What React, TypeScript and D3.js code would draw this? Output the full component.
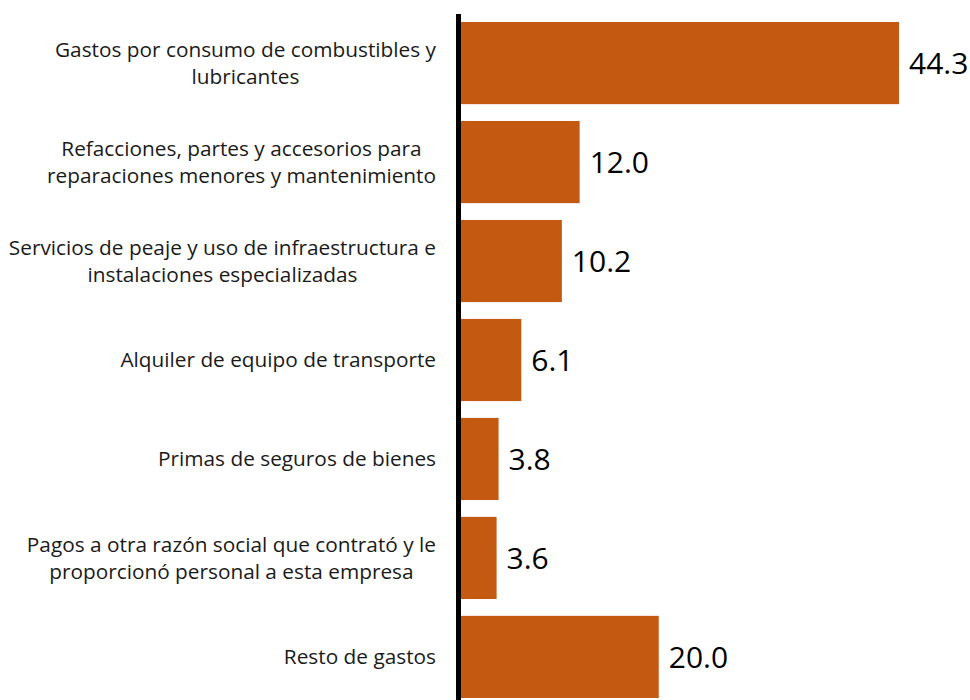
import { useEffect, useRef } from 'react';
import * as d3 from 'd3';

const categories = [
  'Gastos por consumo de combustibles y|lubricantes',
  'Refacciones, partes y accesorios para|reparaciones menores y mantenimiento',
  'Servicios de peaje y uso de infraestructura e|instalaciones especializadas',
  'Alquiler de equipo de transporte',
  'Primas de seguros de bienes',
  'Pagos a otra razón social que contrató y le|proporcionó personal a esta empresa',
  'Resto de gastos',
];
const values = [44.3, 12.0, 10.2, 6.1, 3.8, 3.6, 20.0];

const WIDTH = 970;
const HEIGHT = 700;
const BAR_COLOR = '#C45911';
const FONT = '"Open Sans", "DejaVu Sans", sans-serif';

export default function App() {
  const svgRef = useRef<SVGSVGElement>(null);

  useEffect(() => {
    const root = d3.select(svgRef.current);
    root.selectAll('*').remove();

    const y = d3.scaleBand<string>().domain(categories).range([22, 698]).paddingInner(0.17).paddingOuter(0);
    const x = d3.scaleLinear().domain([0, 44.3]).range([461, 899]);

    root
      .selectAll('rect.bar')
      .data(categories)
      .enter()
      .append('rect')
      .attr('class', 'bar')
      .attr('x', x(0))
      .attr('y', d => y(d) as number)
      .attr('width', (_, i) => x(values[i]) - x(0))
      .attr('height', y.bandwidth())
      .attr('fill', BAR_COLOR);

    // axis line
    root
      .append('line')
      .attr('x1', 458.5)
      .attr('x2', 458.5)
      .attr('y1', 14)
      .attr('y2', HEIGHT)
      .attr('stroke', '#000')
      .attr('stroke-width', 5);

    // value labels
    root
      .selectAll('text.value')
      .data(values)
      .enter()
      .append('text')
      .attr('class', 'value')
      .attr('x', d => x(d) + 10)
      .attr('y', (_, i) => (y(categories[i]) as number) + y.bandwidth() / 2)
      .attr('dy', '0.36em')
      .style('font-family', FONT)
      .style('font-size', '30px')
      .style('fill', '#000')
      .text(d => d.toFixed(1));

    // category labels: lines centred on each other, block right-aligned
    const lineH = 27;
    const labelRight = 436;
    categories.forEach(cat => {
      const lines = cat.split('|');
      const cy = (y(cat) as number) + y.bandwidth() / 2;
      const g = root.append('g');
      const texts = lines.map((ln, j) =>
        g
          .append('text')
          .attr('y', cy + (j - (lines.length - 1) / 2) * lineH)
          .attr('dy', '0.35em')
          .attr('text-anchor', 'middle')
          .style('font-family', FONT)
          .style('font-size', '20.8px')
          .style('fill', '#1a1a1a')
          .text(ln),
      );
      const maxW = d3.max(texts, t => (t.node() as SVGTextElement).getComputedTextLength()) || 0;
      texts.forEach(t => t.attr('x', labelRight - maxW / 2));
    });
  }, []);

  return (
    <div style={{ position: 'absolute', left: 0, top: 0 }}>
      <svg ref={svgRef} width={WIDTH} height={HEIGHT} style={{ display: 'block', background: '#fff' }} />
    </div>
  );
}
